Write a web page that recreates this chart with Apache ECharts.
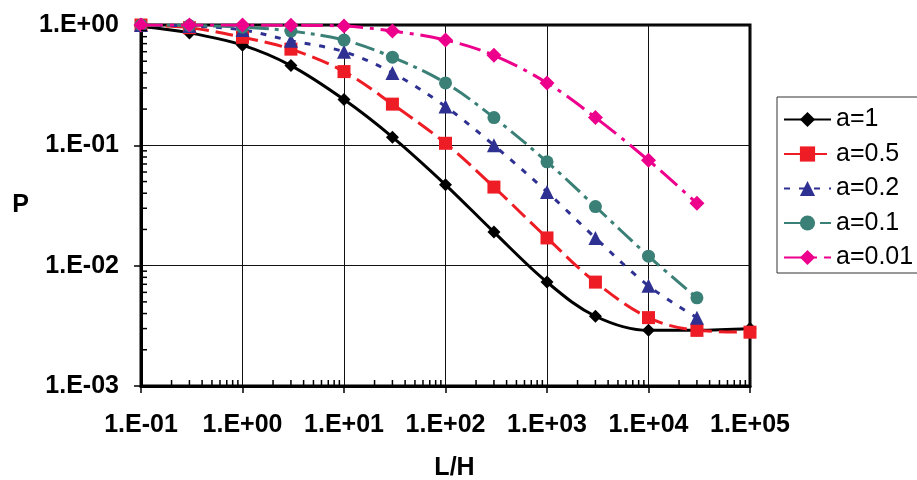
<!DOCTYPE html>
<html>
<head>
<meta charset="utf-8">
<script src="https://cdn.jsdelivr.net/npm/echarts@6/dist/echarts.min.js"></script>
<style>
  html, body { margin: 0; padding: 0; background: #fff; }
  #chart { width: 917px; height: 480px; }
</style>
</head>
<body>
<div id="chart"></div>
<script>
// L/H values (x) shared by all curves
var lh = [0.1, 0.3, 1, 3, 10, 30, 100, 300, 1000, 3000, 10000, 30000, 100000];

// P values
var p_a1   = [0.97, 0.86, 0.68, 0.46, 0.24, 0.117, 0.047, 0.019, 0.0073, 0.0038, 0.0029, 0.0029, 0.0030];
var p_a05  = [1.0, 0.95, 0.79, 0.63, 0.41, 0.22, 0.104, 0.045, 0.017, 0.0073, 0.0037, 0.0029, 0.0028];
var p_a02  = [1.0, 0.98, 0.91, 0.74, 0.60, 0.40, 0.21, 0.10, 0.041, 0.017, 0.0068, 0.0037];
var p_a01  = [1.0, 0.99, 0.96, 0.89, 0.75, 0.54, 0.33, 0.17, 0.073, 0.031, 0.012, 0.0054];
var p_a001 = [1.0, 1.0, 1.0, 0.995, 0.98, 0.89, 0.75, 0.56, 0.33, 0.17, 0.075, 0.033];

var seriesNames = ['a=1', 'a=0.5', 'a=0.2', 'a=0.1', 'a=0.01'];

// minor tick values (2..9 per decade)
var xMinor = [];
for (var d = -1; d < 5; d++) {
    for (var m = 2; m <= 9; m++) xMinor.push(m * Math.pow(10, d));
}
var yMinor = [];
for (var d2 = -3; d2 < 0; d2++) {
    for (var m2 = 2; m2 <= 9; m2++) yMinor.push(m2 * Math.pow(10, d2));
}

var font = "'Liberation Sans', Arial, sans-serif";

function pairs(ys) {
    var out = [];
    for (var i = 0; i < ys.length; i++) out.push([lh[i], ys[i]]);
    return out;
}

function sci(v) {
    var e = Math.round(Math.log10(v));
    var a = Math.abs(e);
    return '1.E' + (e < 0 ? '-' : '+') + (a < 10 ? '0' + a : '' + a);
}

function curve(name, data, color, dash, symbol, size) {
    return {
        name: name,
        type: 'line',
        data: pairs(data),
        smooth: 0.35,
        symbol: symbol,
        symbolSize: size,
        lineStyle: { color: color, width: 3, type: dash },
        itemStyle: { color: color },
        z: 3
    };
}

var myChart = echarts.init(document.getElementById('chart'));

var option = {
    backgroundColor: '#fff',
    animation: false,
    grid: {
        left: 141,
        right: 167,
        top: 25,
        bottom: 94,
        containLabel: false,
        outerBoundsMode: 'none',
        show: true,
        borderColor: '#000',
        borderWidth: 3
    },
    legend: {
        data: seriesNames,
        orient: 'vertical',
        left: 777,
        top: 97,
        width: 140,
        padding: [10, 20, 3, 6],
        itemWidth: 47,
        itemHeight: 19,
        itemGap: 9.5,
        backgroundColor: '#fff',
        borderColor: '#333',
        borderWidth: 1,
        textStyle: { fontFamily: font, fontSize: 25, color: '#000' }
    },
    xAxis: {
        type: 'log',
        logBase: 10,
        min: 0.1,
        max: 100000,
        name: 'L/H',
        nameLocation: 'middle',
        nameGap: 70,
        nameTextStyle: { fontFamily: font, fontSize: 25, fontWeight: 'bold', color: '#000', padding: [0, 0, 0, 18] },
        axisLine: { show: true, onZero: false, lineStyle: { color: '#000', width: 3 } },
        axisTick: { show: true, inside: false, length: 7, lineStyle: { color: '#000', width: 1.5 } },
        axisLabel: { formatter: sci, margin: 27, fontFamily: font, fontSize: 25, fontWeight: 'bold', color: '#000' },
        splitLine: { show: true, lineStyle: { color: '#111', width: 1 } }
    },
    yAxis: {
        type: 'log',
        logBase: 10,
        min: 0.001,
        max: 1,
        name: 'P',
        nameLocation: 'middle',
        nameGap: 112,
        nameRotate: 0,
        nameTextStyle: { fontFamily: font, fontSize: 25, fontWeight: 'bold', color: '#000' },
        axisLine: { show: true, onZero: false, lineStyle: { color: '#000', width: 3 } },
        axisTick: { show: true, inside: false, length: 7, lineStyle: { color: '#000', width: 1.5 } },
        axisLabel: { formatter: sci, margin: 22, fontFamily: font, fontSize: 25, fontWeight: 'bold', color: '#000' },
        splitLine: { show: true, lineStyle: { color: '#111', width: 1 } }
    },
    series: [
        curve('a=1', p_a1, '#000000', 'solid', 'diamond', 13),
        curve('a=0.5', p_a05, '#ee1c25', [18, 7], 'rect', 13),
        curve('a=0.2', p_a02, '#2e3192', [6, 9], 'triangle', 14),
        curve('a=0.1', p_a01, '#3a8077', [20, 6, 4, 6], 'circle', 13),
        curve('a=0.01', p_a001, '#ec008c', [22, 7, 4, 7], 'diamond', 15),
        {
            // minor ticks on the bottom axis, pointing inward
            type: 'custom',
            silent: true,
            clip: false,
            z: 4,
            data: xMinor.map(function (v) { return [v, 0.001]; }),
            renderItem: function (params, api) {
                var p = api.coord([api.value(0), api.value(1)]);
                return {
                    type: 'line',
                    shape: { x1: p[0], y1: p[1], x2: p[0], y2: p[1] - 6 },
                    style: { stroke: '#000', lineWidth: 1.5 }
                };
            }
        },
        {
            // minor ticks on the left axis, pointing inward
            type: 'custom',
            silent: true,
            clip: false,
            z: 4,
            data: yMinor.map(function (v) { return [0.1, v]; }),
            renderItem: function (params, api) {
                var p = api.coord([api.value(0), api.value(1)]);
                return {
                    type: 'line',
                    shape: { x1: p[0], y1: p[1], x2: p[0] + 6, y2: p[1] },
                    style: { stroke: '#000', lineWidth: 1.5 }
                };
            }
        }
    ]
};

myChart.setOption(option);
</script>
</body>
</html>
